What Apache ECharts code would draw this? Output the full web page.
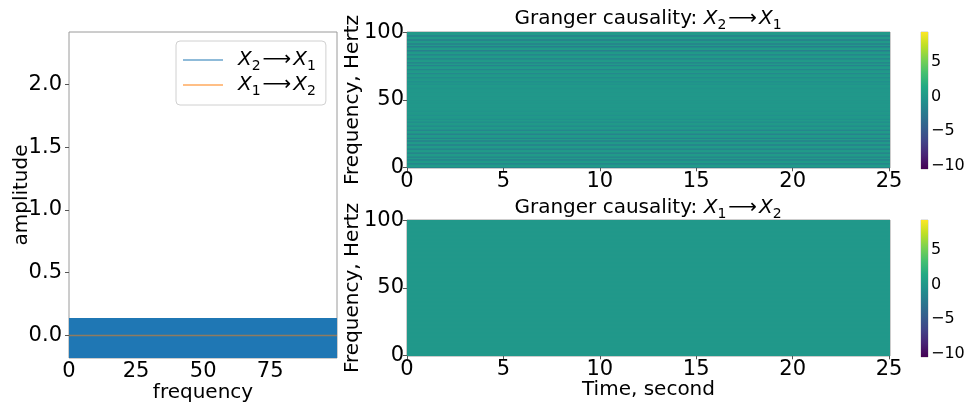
<!DOCTYPE html>
<html>
<head>
<meta charset="utf-8">
<script src="https://cdn.jsdelivr.net/npm/echarts@6/dist/echarts.min.js"></script>
<style>
  html, body { margin: 0; padding: 0; background: #ffffff; }
  #chart { width: 969px; height: 405px; }
</style>
</head>
<body>
<div id="chart"></div>
<script>
// ---- spectrum panel (left) ----
const spectrumFreq = [0, 99.9];
const bandLow = [-0.18, -0.18];
const bandHigh = [0.14, 0.14];
const gcX2toX1 = [0, 0];
const gcX1toX2 = [0, 0];
const ampTicks = [0, 0.5, 1, 1.5, 2];
const freqTicks = [0, 25, 50, 75];

// ---- time-frequency maps (right) ----
const timeSpan = [0, 25.05];
const freqBins = [
  0, 1, 2, 3, 4, 5, 6, 7, 8, 9, 10, 11, 12, 13, 14, 15, 16, 17, 18, 19,
  20, 21, 22, 23, 24, 25, 26, 27, 28, 29, 30, 31, 32, 33, 34, 35, 36, 37, 38, 39,
  40, 41, 42, 43, 44, 45, 46, 47, 48, 49, 50, 51, 52, 53, 54, 55, 56, 57, 58, 59,
  60, 61, 62, 63, 64, 65, 66, 67, 68, 69, 70, 71, 72, 73, 74, 75, 76, 77, 78, 79,
  80, 81, 82, 83, 84, 85, 86, 87, 88, 89, 90, 91, 92, 93, 94, 95, 96, 97, 98, 99, 100
];
const mapX2toX1 = [
  -2.0, 0.3, 0.2, -1.9, 0.3, 0.1, -2.0, 0.2, -1.8, 0.3,
  0.2, -2.0, 0.3, 0.1, -1.9, 0.2, 0.3, -1.9, 0.2, 0.1,
  -1.8, 0.3, -1.8, 0.2, 0.1, -1.7, 0.3, 0.2, -1.5, 0.2,
  0.1, -1.2, 0.2, 0.1, -0.9, 0.1, -0.7, 0.1, 0.0, -0.5,
  0.1, 0.0, -0.3, 0.0, 0.0, -0.2, 0.0, 0.0, -0.2, 0.0,
  -0.2, 0.0, 0.0, -0.2, 0.0, 0.0, -0.2, 0.0, 0.0, -0.3,
  0.0, 0.1, -0.5, 0.0, -0.7, 0.1, 0.1, -0.9, 0.1, 0.2,
  -1.2, 0.2, 0.1, -1.5, 0.2, 0.3, -1.7, 0.2, -1.8, 0.3,
  0.1, -1.9, 0.2, 0.3, -1.9, 0.2, 0.1, -2.0, 0.3, 0.2,
  -2.0, 0.2, -1.9, 0.3, 0.1, -2.0, 0.2, 0.3, -2.0, 0.2, 0.1
];
const mapX1toX2 = [
  0, 0, 0, 0, 0, 0, 0, 0, 0, 0, 0, 0, 0, 0, 0, 0, 0, 0, 0, 0,
  0, 0, 0, 0, 0, 0, 0, 0, 0, 0, 0, 0, 0, 0, 0, 0, 0, 0, 0, 0,
  0, 0, 0, 0, 0, 0, 0, 0, 0, 0, 0, 0, 0, 0, 0, 0, 0, 0, 0, 0,
  0, 0, 0, 0, 0, 0, 0, 0, 0, 0, 0, 0, 0, 0, 0, 0, 0, 0, 0, 0,
  0, 0, 0, 0, 0, 0, 0, 0, 0, 0, 0, 0, 0, 0, 0, 0, 0, 0, 0, 0, 0
];
const timeTicks = [0, 5, 10, 15, 20, 25];
const hzTicks = [0, 50, 100];
const colorRange = [-10.5, 9.3];
const colorTicks = [-10, -5, 0, 5];

const viridis = ['#440154', '#482475', '#414487', '#355f8d', '#2a788e', '#21918c',
                 '#22a884', '#44bf70', '#7ad151', '#bddf26', '#fde725'];

const FONT = 'DejaVu Sans';
const rich = {
  n:   { fontSize: 20, fontFamily: FONT, color: '#000', lineHeight: 26 },
  it:  { fontSize: 20, fontFamily: FONT, fontStyle: 'italic', color: '#000', lineHeight: 26 },
  it0: { fontSize: 20, fontFamily: FONT, fontStyle: 'italic', color: '#000', lineHeight: 26, padding: [0, 0, 0, 10] },
  sub: { fontSize: 14, fontFamily: FONT, color: '#000', lineHeight: 14, verticalAlign: 'bottom' },
  ar:  { fontSize: 20, fontFamily: FONT, color: '#000', lineHeight: 26, padding: [0, 2, 0, 2] }
};
const nameA = 'X2 to X1';
const nameB = 'X1 to X2';
const richLabel = {
  [nameA]: '{it0|X}{sub|2}{ar|⟶}{it|X}{sub|1}',
  [nameB]: '{it0|X}{sub|1}{ar|⟶}{it|X}{sub|2}'
};

const minus = v => (v < 0 ? '\u2212' + Math.abs(v) : String(v));
const TICK_FS = 21;

function axis(gridIndex, min, max, ticks, extra) {
  return Object.assign({
    type: 'value', gridIndex, min, max,
    nameMoveOverlap: false,
    axisLine: { show: false },
    splitLine: { show: false },
    axisTick: { show: true, length: 4, customValues: ticks, lineStyle: { color: '#555', width: 1 } },
    axisLabel: { customValues: ticks, fontSize: TICK_FS, fontFamily: FONT, color: '#000', margin: 3 },
    nameTextStyle: { fontSize: 20, fontFamily: FONT, color: '#000' }
  }, extra || {});
}

function mapData(values) {
  return freqBins.map((f, i) => [timeSpan[0], timeSpan[1], f - 0.5, f + 0.5, values[i]]);
}

function cellItem(params, api) {
  const a = api.coord([api.value(0), api.value(3)]);
  const b = api.coord([api.value(1), api.value(2)]);
  return {
    type: 'rect',
    shape: { x: a[0], y: a[1] - 0.6, width: b[0] - a[0], height: b[1] - a[1] + 1.2 },
    style: { fill: api.visual('color') }
  };
}

function bandItem(params, api) {
  const pts = [];
  spectrumFreq.forEach((f, i) => pts.push(api.coord([f, bandHigh[i]])));
  for (let i = spectrumFreq.length - 1; i >= 0; i--) pts.push(api.coord([spectrumFreq[i], bandLow[i]]));
  return { type: 'polygon', shape: { points: pts }, style: { fill: '#1f77b4' } };
}

function colorbarItem(params, api) {
  const a = api.coord([0, api.value(1)]);
  const b = api.coord([1, api.value(0)]);
  const stops = viridis.map((c, i) => ({ offset: i / (viridis.length - 1), color: c }));
  return {
    type: 'rect',
    shape: { x: a[0], y: a[1], width: b[0] - a[0], height: b[1] - a[1] },
    style: { fill: new echarts.graphic.LinearGradient(0, 1, 0, 0, stops) }
  };
}

const frame = { show: true, borderColor: '#9a9a9a', borderWidth: 1, backgroundColor: 'transparent', outerBoundsMode: 'none', containLabel: false };

const chart = echarts.init(document.getElementById('chart'), null, { renderer: 'canvas' });
chart.setOption({
  animation: false,
  backgroundColor: '#ffffff',
  grid: [
    Object.assign({ left: 69, top: 32, width: 268, height: 326 }, frame),
    Object.assign({ left: 407, top: 32, width: 483, height: 136 }, frame),
    Object.assign({ left: 407, top: 220, width: 483, height: 136 }, frame),
    Object.assign({ left: 921, top: 32, width: 7, height: 137 }, frame, { borderColor: '#c8c8c8' }),
    Object.assign({ left: 921, top: 220, width: 7, height: 137 }, frame, { borderColor: '#c8c8c8' })
  ],
  xAxis: [
    axis(0, 0, 99.9, freqTicks, { name: 'frequency', nameLocation: 'middle', nameGap: 25 }),
    axis(1, timeSpan[0], timeSpan[1], timeTicks),
    axis(2, timeSpan[0], timeSpan[1], timeTicks, { name: 'Time, second', nameLocation: 'middle', nameGap: 24 }),
    axis(3, 0, 1, [], { show: false }),
    axis(4, 0, 1, [], { show: false })
  ],
  yAxis: [
    axis(0, -0.18, 2.42, ampTicks, {
      name: 'amplitude', nameLocation: 'middle', nameGap: 37,
      axisLabel: { customValues: ampTicks, fontSize: TICK_FS, fontFamily: FONT, color: '#000', margin: 7, formatter: v => v.toFixed(1) }
    }),
    axis(1, -0.5, 100.5, hzTicks, { name: 'Frequency, Hertz', nameLocation: 'middle', nameGap: 44 }),
    axis(2, -0.5, 100.5, hzTicks, { name: 'Frequency, Hertz', nameLocation: 'middle', nameGap: 44 }),
    axis(3, colorRange[0], colorRange[1], colorTicks, {
      position: 'right',
      axisLabel: { customValues: colorTicks, fontSize: 16, fontFamily: FONT, color: '#000', margin: 3, formatter: minus }
    }),
    axis(4, colorRange[0], colorRange[1], colorTicks, {
      position: 'right',
      axisLabel: { customValues: colorTicks, fontSize: 16, fontFamily: FONT, color: '#000', margin: 3, formatter: minus }
    })
  ],
  visualMap: [{
    show: false, type: 'continuous', dimension: 4,
    min: colorRange[0], max: colorRange[1],
    seriesIndex: [3, 4],
    inRange: { color: viridis }
  }],
  legend: {
    data: [nameA, nameB],
    orient: 'vertical', left: 176, top: 41,
    icon: 'rect', itemWidth: 40, itemHeight: 2, itemGap: 2,
    padding: [9, 10, 7, 7],
    borderColor: '#d0d0d0', borderWidth: 1, borderRadius: 4,
    formatter: n => richLabel[n],
    textStyle: { rich }
  },
  graphic: [
    { type: 'text', x: 648, y: 19, style: { text: '{n|Granger causality: }{it|X}{sub|2}{ar|⟶}{it|X}{sub|1}', rich, align: 'center', verticalAlign: 'middle' } },
    { type: 'text', x: 648, y: 208, style: { text: '{n|Granger causality: }{it|X}{sub|1}{ar|⟶}{it|X}{sub|2}', rich, align: 'center', verticalAlign: 'middle' } }
  ],
  series: [
    { type: 'custom', xAxisIndex: 0, yAxisIndex: 0, data: [[0]], renderItem: bandItem, clip: true, silent: true, z: 1 },
    { type: 'line', name: nameA, xAxisIndex: 0, yAxisIndex: 0, symbol: 'none', z: 2,
      data: spectrumFreq.map((f, i) => [f, gcX2toX1[i]]),
      lineStyle: { color: 'rgba(31,119,180,0.5)', width: 1.5 }, itemStyle: { color: 'rgba(31,119,180,0.5)' } },
    { type: 'line', name: nameB, xAxisIndex: 0, yAxisIndex: 0, symbol: 'none', z: 3,
      data: spectrumFreq.map((f, i) => [f, gcX1toX2[i]]),
      lineStyle: { color: 'rgba(255,127,14,0.5)', width: 1.5 }, itemStyle: { color: 'rgba(255,127,14,0.5)' } },
    { type: 'custom', xAxisIndex: 1, yAxisIndex: 1, data: mapData(mapX2toX1), encode: { x: [0, 1], y: [2, 3] }, renderItem: cellItem, clip: true, silent: true },
    { type: 'custom', xAxisIndex: 2, yAxisIndex: 2, data: mapData(mapX1toX2), encode: { x: [0, 1], y: [2, 3] }, renderItem: cellItem, clip: true, silent: true },
    { type: 'custom', xAxisIndex: 3, yAxisIndex: 3, data: [colorRange], encode: { y: [0, 1] }, renderItem: colorbarItem, silent: true },
    { type: 'custom', xAxisIndex: 4, yAxisIndex: 4, data: [colorRange], encode: { y: [0, 1] }, renderItem: colorbarItem, silent: true }
  ]
});
</script>
</body>
</html>
